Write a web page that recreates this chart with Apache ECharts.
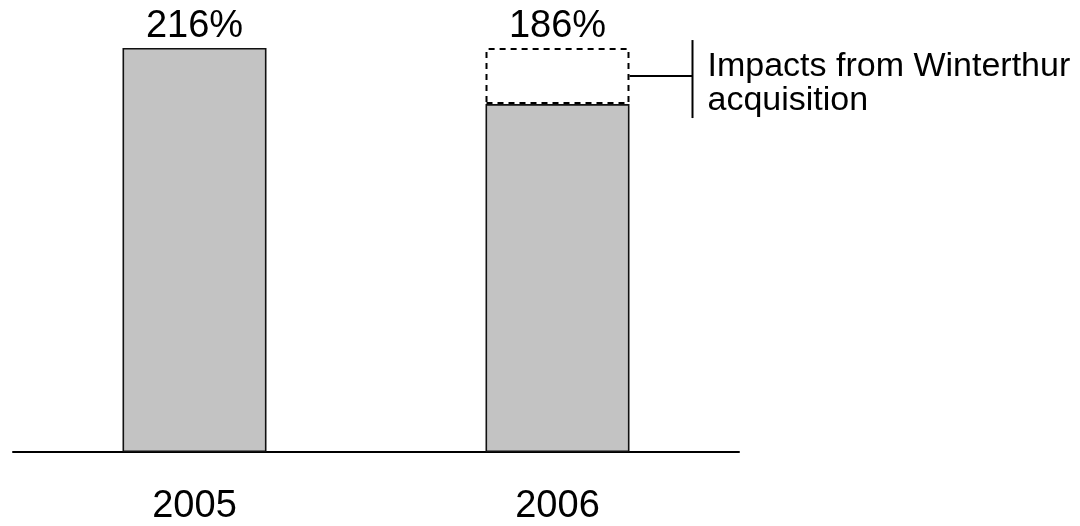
<!DOCTYPE html>
<html>
<head>
<meta charset="utf-8">
<script src="https://cdn.jsdelivr.net/npm/echarts@6/dist/echarts.min.js"></script>
<style>
html,body{margin:0;padding:0;background:#fff;}
#chart{width:1080px;height:526px;}
</style>
</head>
<body>
<div id="chart"></div>
<script>
const categories = ['2005', '2006'];
const solvency = [216, 186];
const winterthurImpact = [0, 30];
const topLabels = ['216%', '186%'];
const annotationText = 'Impacts from Winterthur\nacquisition';

const FONT = 'Liberation Sans, Arial, sans-serif';
const chart = echarts.init(document.getElementById('chart'), null, {renderer: 'canvas'});

const labelStyle = {show: true, position: 'top', distance: 2, fontSize: 38, color: '#000', fontFamily: FONT};

const solidData = solvency.map((v, i) => ({
  value: v,
  label: winterthurImpact[i] > 0 ? {show: false} : Object.assign({}, labelStyle, {formatter: topLabels[i]})
}));
const impactData = winterthurImpact.map((v, i) => ({
  value: v > 0 ? v : '-',
  label: v > 0 ? Object.assign({}, labelStyle, {formatter: topLabels[i]}) : {show: false}
}));

const option = {
  animation: false,
  backgroundColor: '#fff',
  grid: {left: 13, right: 341, top: 48, bottom: 73},
  xAxis: {
    type: 'category',
    data: categories,
    axisLine: {lineStyle: {color: '#000', width: 2}},
    axisTick: {show: false},
    axisLabel: {fontSize: 38, color: '#000', fontFamily: FONT, margin: 36}
  },
  yAxis: {type: 'value', min: 0, max: 216, show: false, splitLine: {show: false}},
  series: [
    {
      name: 'Solvency',
      type: 'bar',
      stack: 's',
      barWidth: 144,
      data: solidData,
      itemStyle: {color: '#c3c3c3', borderColor: '#111', borderWidth: 1.6}
    },
    {
      name: 'Impacts from Winterthur acquisition',
      type: 'bar',
      stack: 's',
      barWidth: 144,
      data: impactData,
      itemStyle: {color: 'rgba(255,255,255,0)', borderColor: '#000', borderWidth: 2, borderType: [6, 5]}
    }
  ]
};
chart.setOption(option);

// bracket annotation positioned from the impact bar
function placeAnnotation() {
  const idx = winterthurImpact.findIndex(v => v > 0);
  const centerX = chart.convertToPixel({xAxisIndex: 0}, categories[idx]);
  const midY = chart.convertToPixel({yAxisIndex: 0}, solvency[idx] + winterthurImpact[idx] / 2);
  const barRight = centerX + 72;
  const vx = barRight + 63;
  chart.setOption({
    graphic: [
      {type: 'line', shape: {x1: barRight, y1: midY, x2: vx, y2: midY}, style: {stroke: '#000', lineWidth: 2}},
      {type: 'line', shape: {x1: vx, y1: midY - 36, x2: vx, y2: midY + 42}, style: {stroke: '#000', lineWidth: 2}},
      {type: 'text', x: vx + 15, y: midY + 8, style: {text: annotationText, font: '34px ' + FONT, fill: '#000', lineHeight: 34, textAlign: 'left', textVerticalAlign: 'middle'}}
    ]
  });
}
placeAnnotation();
</script>
</body>
</html>
